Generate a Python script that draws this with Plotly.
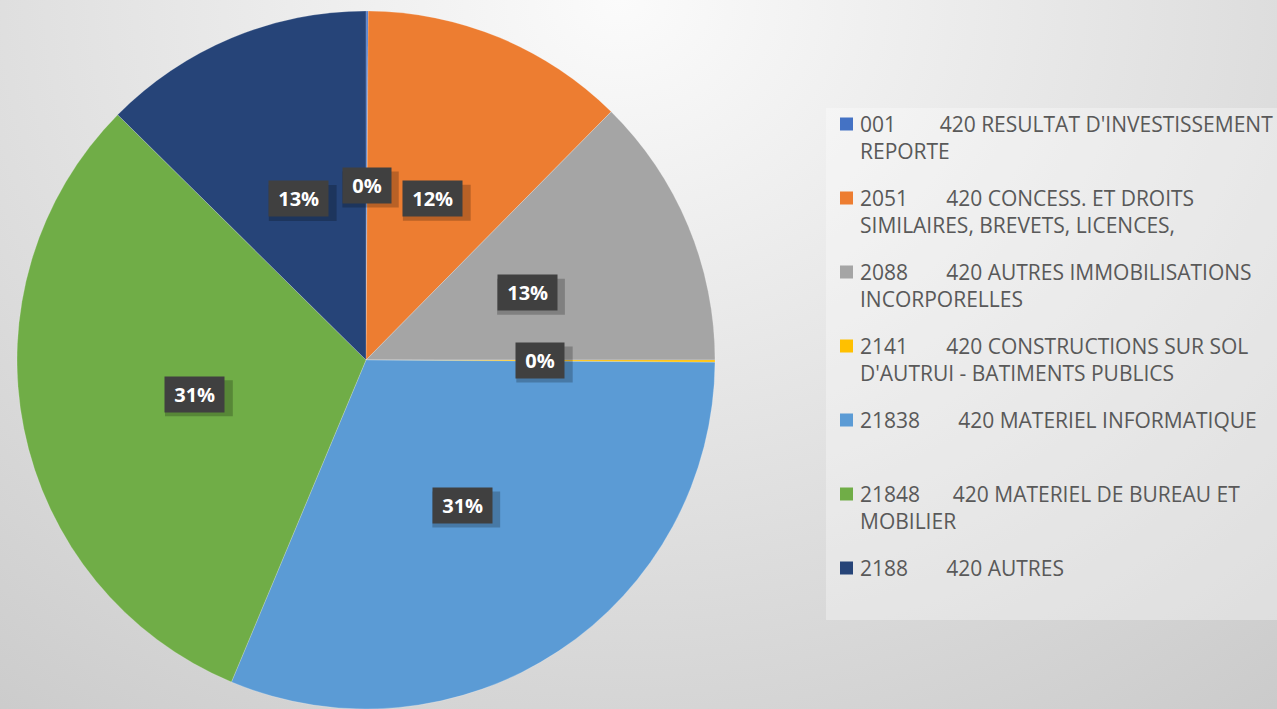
import base64
import math
import plotly.graph_objects as go

# ---------------- data ----------------
codes = ["001", "2051", "2088", "2141", "21838", "21848", "2188"]
names = [
    "420 RESULTAT D'INVESTISSEMENT<br>REPORTE",
    "420 CONCESS. ET DROITS<br>SIMILAIRES, BREVETS, LICENCES,",
    "420 AUTRES IMMOBILISATIONS<br>INCORPORELLES",
    "420 CONSTRUCTIONS SUR SOL<br>D'AUTRUI - BATIMENTS PUBLICS",
    "420 MATERIEL INFORMATIQUE",
    "420 MATERIEL DE BUREAU ET<br>MOBILIER",
    "420 AUTRES",
]
gaps = [8, 7, 7, 7, 7, 6, 7]
shares = [0.1, 12.3, 12.6, 0.1, 31.2, 31.1, 12.6]
colors = ["#4472C4", "#ED7D31", "#A5A5A5", "#FFC000", "#5B9BD5", "#70AD47", "#264478"]

W, H = 1277, 709
labels = [c + "\u00a0" * g + n for c, n, g in zip(codes, names, gaps)]

# pie domain in paper units
dom_x = [17 / W, 715 / W]
dom_y = [0.0, 1 - 11 / H]

fig = go.Figure()
fig.add_trace(go.Pie(
    labels=labels,
    values=shares,
    sort=False,
    direction="clockwise",
    rotation=0,
    marker=dict(colors=colors, line=dict(color="rgba(255,255,255,0.2)", width=1)),
    textinfo="none",
    domain=dict(x=dom_x, y=dom_y),
    hovertemplate="%{label}<br>%{percent}<extra></extra>",
    showlegend=False,
))

# ---------------- data labels (computed from the values) ----------------
cx = (dom_x[0] + dom_x[1]) / 2 * W
cy = (1 - (dom_y[0] + dom_y[1]) / 2) * H
R = min((dom_x[1] - dom_x[0]) * W, (dom_y[1] - dom_y[0]) * H) / 2
total = sum(shares)
cum = 0.0
annotations = []
shadow_shapes = []
lab_font = dict(family="Open Sans", size=20, weight="bold", color="white")
for v in shares:
    mid = (cum + v / 2) / total * 2 * math.pi
    cum += v
    px = cx + 0.5 * R * math.sin(mid)
    py = cy - 0.5 * R * math.cos(mid)
    pct = "%d%%" % round(v / total * 100 + 1e-9)
    txt = "\u00a0" + pct + "\u00a0"
    # approximate label-box size for the soft drop shadow
    bw = 28 + 11.4 * (len(pct) - 1) + 17
    bh = 36
    off = 4
    shadow_shapes.append(dict(type="rect", xref="paper", yref="paper",
                              x0=(px - bw / 2 + off) / W, x1=(px + bw / 2 + off) / W,
                              y0=1 - (py + bh / 2 + off) / H, y1=1 - (py - bh / 2 + off) / H,
                              fillcolor="rgba(0,0,0,0.22)", line=dict(width=0)))
    annotations.append(dict(x=px / W, y=1 - py / H, xref="paper", yref="paper",
                            xanchor="center", yanchor="middle",
                            showarrow=False, text=txt, borderpad=4,
                            bgcolor="#404040", font=lab_font))

# ---------------- custom legend (layout) ----------------
leg_left, leg_top, leg_step, leg_first = 826, 108, 74, 124
sq = 13
shapes = [dict(type="rect", xref="paper", yref="paper",
               x0=leg_left / W, x1=1.01, y0=1 - 620 / H, y1=1 - leg_top / H,
               fillcolor="rgba(255,255,255,0.33)", line=dict(width=0), layer="below")]
shapes += shadow_shapes
leg_font = dict(family="Open Sans", size=21, color="#595959")
for i, (lab, col) in enumerate(zip(labels, colors)):
    yc = leg_first + i * leg_step
    shapes.append(dict(type="rect", xref="paper", yref="paper",
                       x0=840 / W, x1=(840 + sq) / W,
                       y0=1 - (yc + sq / 2) / H, y1=1 - (yc - sq / 2) / H,
                       fillcolor=col, line=dict(width=0)))
    annotations.append(dict(x=859 / W, y=1 - (yc - 15) / H, xref="paper", yref="paper",
                            xanchor="left", yanchor="top", align="left",
                            showarrow=False, text=lab, font=leg_font, borderpad=0))

# ---------------- background gradient ----------------
svg = (
    '<svg xmlns="http://www.w3.org/2000/svg" width="1277" height="709" '
    'viewBox="0 0 1277 709" preserveAspectRatio="none"><defs>'
    '<radialGradient id="g" gradientUnits="userSpaceOnUse" cx="620" cy="0" r="1300" '
    'gradientTransform="translate(620 0) scale(1 0.85) translate(-620 0)">'
    '<stop offset="0" stop-color="#fbfbfb"/><stop offset="1" stop-color="#c0c0c0"/>'
    '</radialGradient></defs><rect width="1277" height="709" fill="url(#g)"/></svg>'
)
bg_src = "data:image/svg+xml;base64," + base64.b64encode(svg.encode()).decode()

fig.update_layout(
    width=W, height=H,
    margin=dict(l=0, r=0, t=0, b=0),
    paper_bgcolor="#e0e0e0",
    images=[dict(source=bg_src, xref="paper", yref="paper", x=0, y=1,
                 sizex=1, sizey=1, sizing="stretch", layer="below")],
    shapes=shapes,
    annotations=annotations,
    showlegend=False,
)

fig.write_html("out.html")
